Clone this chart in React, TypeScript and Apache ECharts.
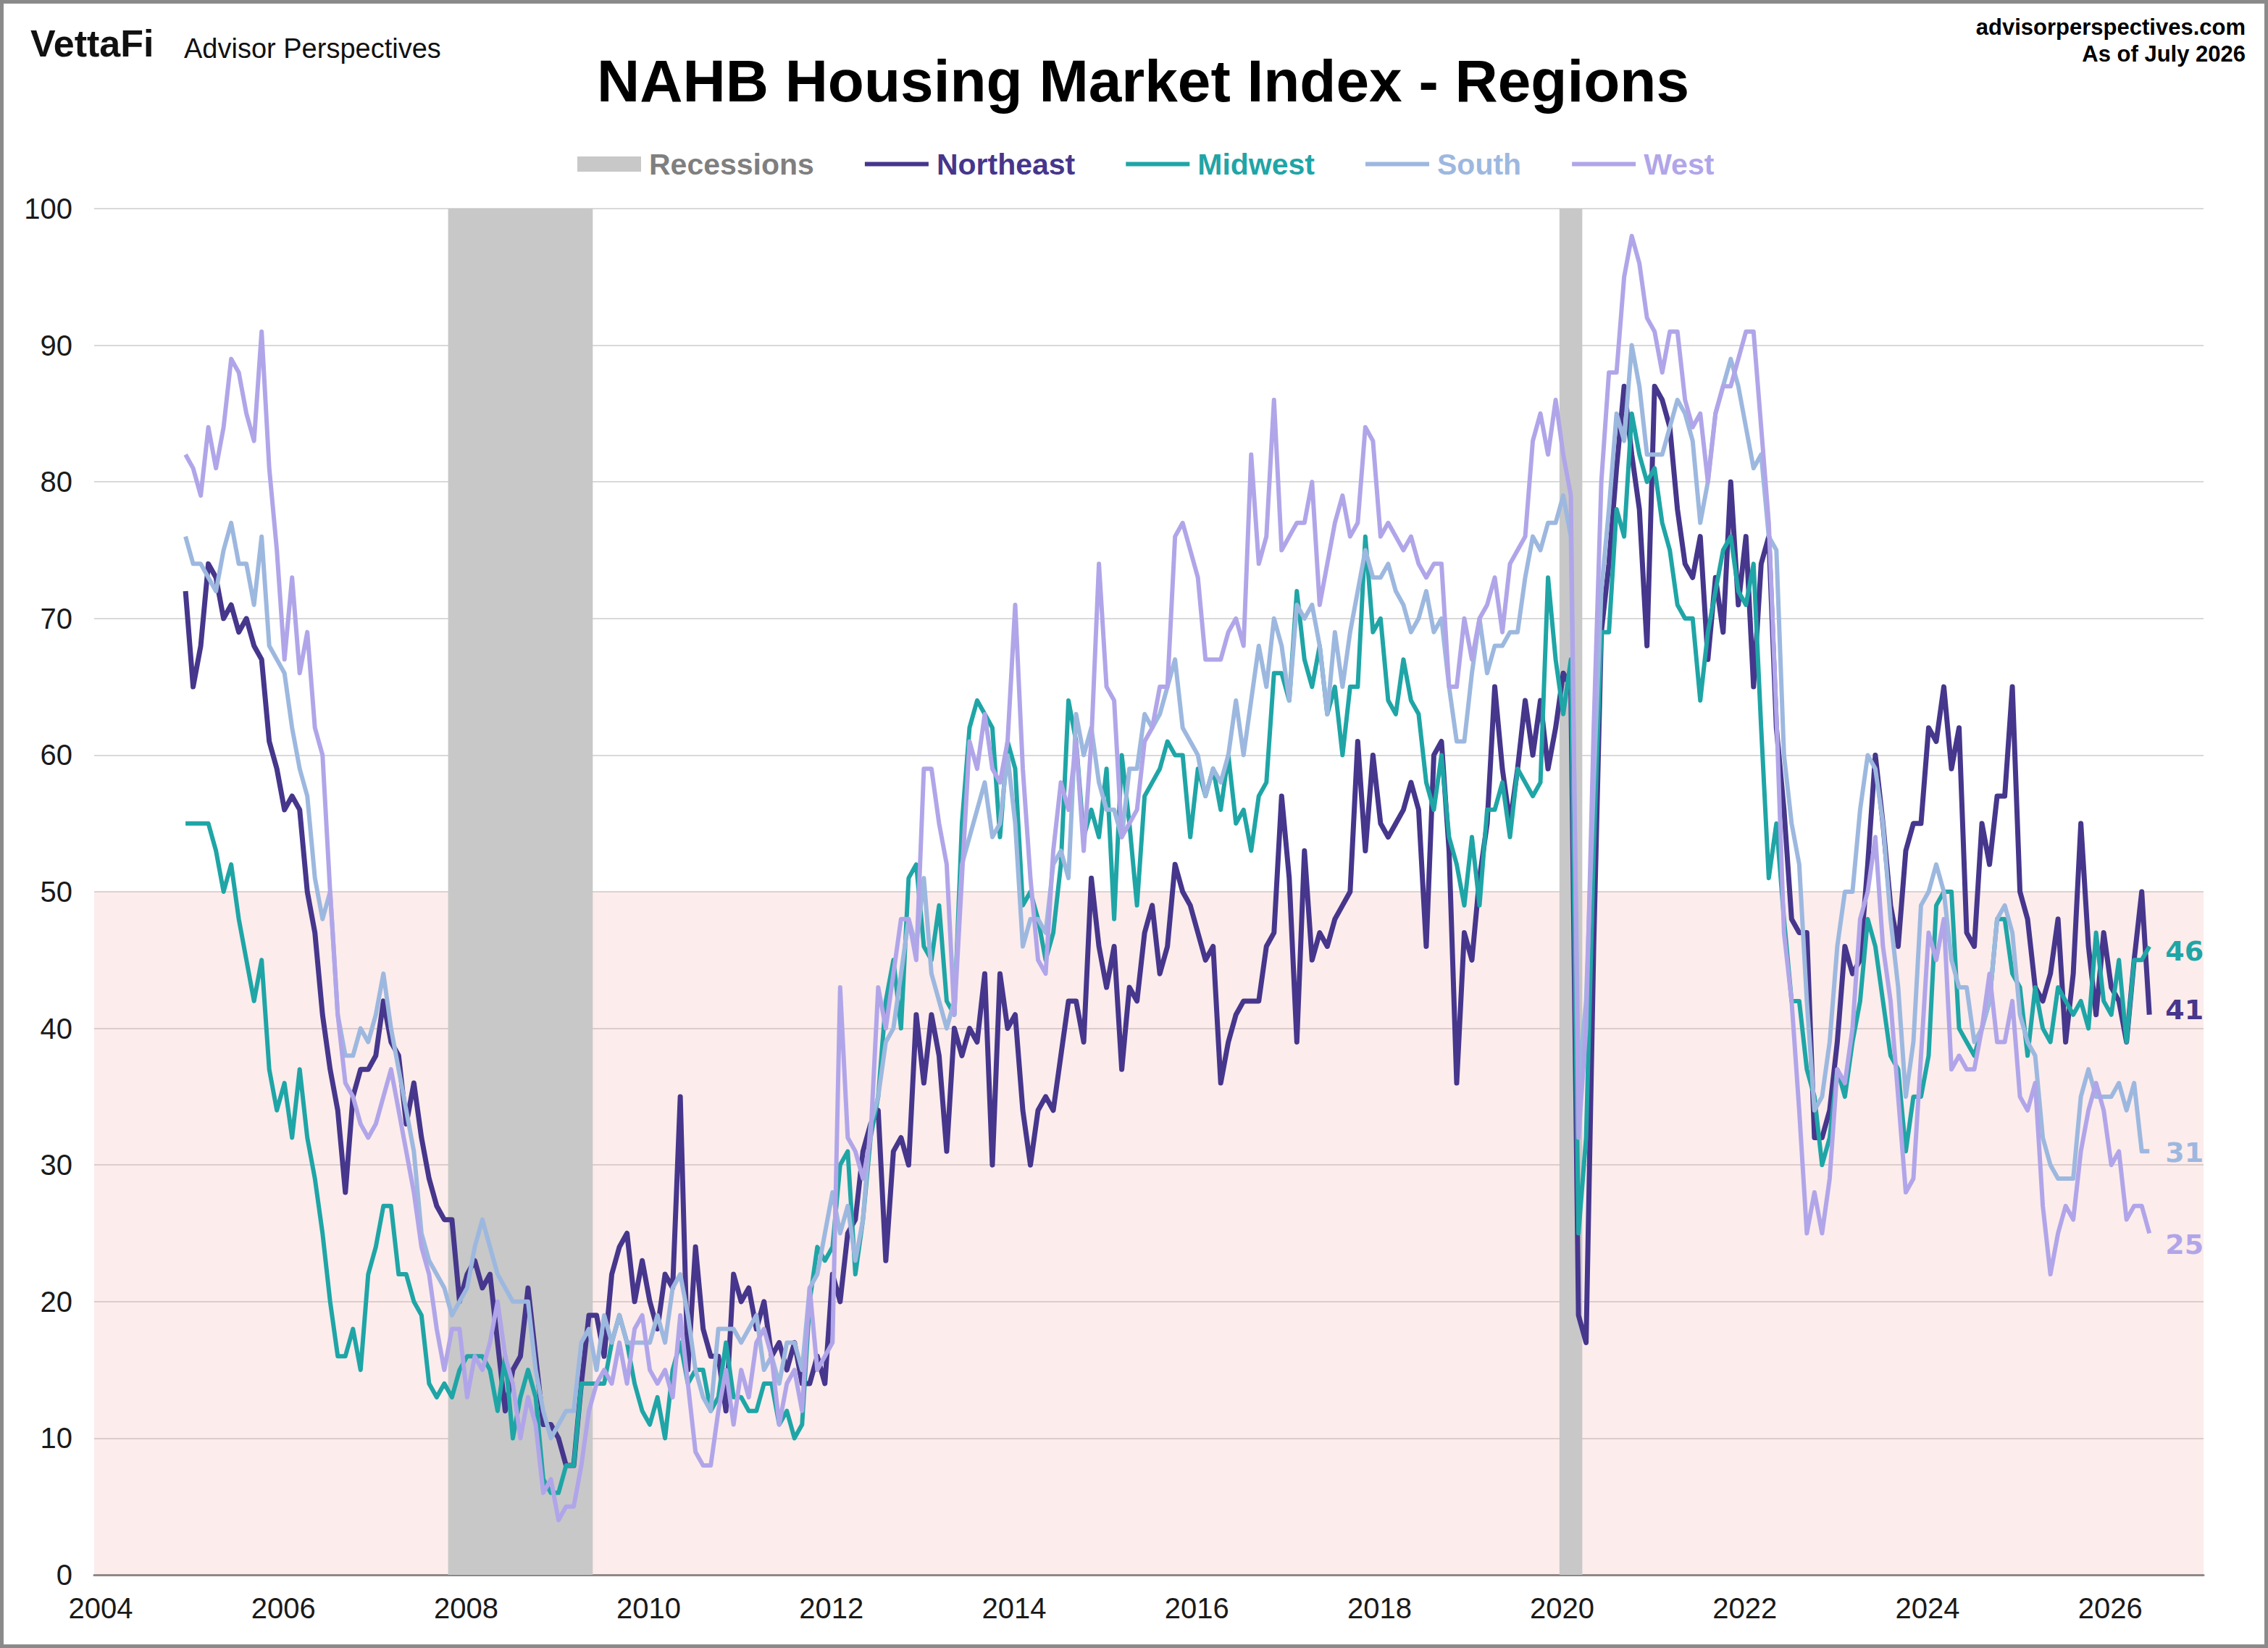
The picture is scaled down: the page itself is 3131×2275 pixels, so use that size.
import { useEffect, useRef } from "react";
import * as echarts from "echarts";

// Monthly readings, Jan 2005 - Jul 2026
const START_YEAR = 2005;

const northeast = [
  72, 65, 68, 74, 73, 70, 71, 69, 70, 68, 67, 61, 59, 56, 57, 56, 50, 47, 41, 37,
  34, 28, 35, 37, 37, 38, 42, 39, 38, 33, 36, 32, 29, 27, 26, 26, 20, 22, 23, 21,
  22, 17, 12, 15, 16, 21, 16, 11, 11, 10, 8, 8, 14, 19, 19, 16, 22, 24, 25, 20,
  23, 20, 18, 22, 21, 35, 15, 24, 18, 16, 16, 12, 22, 20, 21, 18, 20, 16, 17, 15,
  17, 14, 14, 16, 14, 22, 20, 25, 26, 31, 33, 34, 23, 31, 32, 30, 41, 36, 41, 38,
  31, 40, 38, 40, 39, 44, 30, 44, 40, 41, 34, 30, 34, 35, 34, 38, 42, 42, 39, 51,
  46, 43, 46, 37, 43, 42, 47, 49, 44, 46, 52, 50, 49, 47, 45, 46, 36, 39, 41, 42,
  42, 42, 46, 47, 57, 51, 39, 53, 45, 47, 46, 48, 49, 50, 61, 53, 60, 55, 54, 55,
  56, 58, 56, 46, 60, 61, 53, 36, 47, 45, 51, 55, 65, 59, 55, 59, 64, 60, 64, 59,
  62, 66, 65, 19, 17, 46, 69, 74, 81, 87, 82, 78, 68, 87, 86, 84, 78, 74, 73, 76,
  67, 73, 69, 80, 71, 76, 65, 74, 76, 62, 56, 48, 47, 47, 32, 32, 34, 39, 46, 44,
  45, 52, 60, 55, 49, 46, 53, 55, 55, 62, 61, 65, 59, 62, 47, 46, 55, 52, 57, 57,
  65, 50, 48, 43, 42, 44, 48, 39, 44, 55, 46, 41, 47, 43, 42, 39, 45, 50, 41,
];

const midwest = [
  55, 55, 55, 55, 53, 50, 52, 48, 45, 42, 45, 37, 34, 36, 32, 37, 32, 29, 25, 20,
  16, 16, 18, 15, 22, 24, 27, 27, 22, 22, 20, 19, 14, 13, 14, 13, 15, 16, 16, 16,
  15, 12, 16, 10, 13, 15, 13, 7, 6, 6, 8, 8, 14, 14, 14, 14, 17, 19, 17, 14,
  12, 11, 13, 10, 15, 17, 14, 15, 15, 12, 13, 17, 13, 13, 12, 12, 14, 14, 11, 12,
  10, 11, 20, 24, 23, 24, 30, 31, 22, 26, 32, 35, 42, 45, 40, 51, 52, 46, 45, 49,
  42, 41, 55, 62, 64, 63, 62, 54, 61, 59, 49, 50, 48, 45, 47, 52, 64, 61, 54, 56,
  54, 59, 48, 60, 55, 49, 57, 58, 59, 61, 60, 60, 54, 59, 57, 59, 56, 60, 55, 56,
  53, 57, 58, 66, 66, 64, 72, 67, 65, 68, 63, 65, 60, 65, 65, 76, 69, 70, 64, 63,
  67, 64, 63, 58, 56, 60, 54, 52, 49, 54, 49, 56, 56, 58, 54, 59, 58, 57, 58, 73,
  67, 63, 67, 25, 32, 53, 69, 69, 78, 76, 85, 82, 80, 81, 77, 75, 71, 70, 70, 64,
  69, 72, 75, 76, 72, 71, 74, 62, 51, 55, 48, 42, 42, 37, 35, 30, 32, 37, 35, 39,
  42, 48, 46, 42, 38, 37, 31, 35, 35, 38, 49, 50, 50, 40, 39, 38, 40, 42, 48, 48,
  44, 43, 38, 43, 40, 39, 43, 42, 41, 42, 40, 47, 42, 41, 45, 39, 45, 45, 46,
];

const south = [
  76, 74, 74, 73, 72, 75, 77, 74, 74, 71, 76, 68, 67, 66, 62, 59, 57, 51, 48, 50,
  41, 38, 38, 40, 39, 41, 44, 40, 37, 34, 31, 25, 23, 22, 21, 19, 20, 21, 24, 26,
  24, 22, 21, 20, 20, 20, 15, 12, 10, 11, 12, 12, 17, 18, 15, 19, 17, 19, 17, 17,
  17, 17, 19, 17, 21, 22, 19, 15, 13, 12, 18, 18, 18, 17, 18, 19, 15, 16, 14, 17,
  17, 15, 21, 22, 25, 28, 25, 27, 23, 26, 33, 35, 39, 40, 44, 48, 46, 51, 44, 42,
  40, 42, 52, 54, 56, 58, 54, 55, 60, 55, 46, 48, 48, 47, 52, 53, 51, 63, 60, 62,
  58, 56, 56, 54, 59, 59, 63, 62, 63, 65, 67, 62, 61, 60, 57, 59, 58, 60, 64, 60,
  64, 68, 65, 70, 68, 64, 71, 70, 71, 68, 63, 69, 65, 69, 72, 75, 73, 73, 74, 72,
  71, 69, 70, 72, 69, 70, 65, 61, 61, 66, 70, 66, 68, 68, 69, 69, 73, 76, 75, 77,
  77, 79, 76, 36, 42, 58, 72, 78, 85, 83, 90, 87, 82, 82, 82, 84, 86, 85, 83, 77,
  80, 85, 87, 89, 87, 84, 81, 82, 76, 75, 60, 55, 52, 42, 34, 35, 39, 46, 50, 50,
  56, 60, 59, 55, 48, 43, 35, 39, 49, 50, 52, 50, 45, 43, 43, 39, 40, 42, 48, 49,
  47, 41, 39, 38, 32, 30, 29, 29, 29, 35, 37, 35, 35, 35, 36, 34, 36, 31, 31,
];

const west = [
  82, 81, 79, 84, 81, 84, 89, 88, 85, 83, 91, 81, 75, 67, 73, 66, 69, 62, 60, 50,
  41, 36, 35, 33, 32, 33, 35, 37, 34, 31, 28, 24, 22, 18, 15, 18, 18, 13, 16, 15,
  17, 20, 16, 14, 10, 13, 11, 6, 7, 4, 5, 5, 8, 12, 14, 15, 14, 17, 14, 18,
  19, 15, 14, 15, 13, 19, 14, 9, 8, 8, 12, 15, 11, 15, 13, 17, 18, 16, 11, 14,
  15, 12, 21, 15, 16, 17, 43, 32, 31, 29, 32, 43, 40, 44, 48, 48, 45, 59, 59, 55,
  52, 41, 51, 61, 59, 63, 59, 58, 61, 71, 59, 51, 45, 44, 53, 58, 56, 61, 53, 61,
  74, 65, 64, 54, 55, 56, 61, 62, 65, 65, 76, 77, 75, 73, 67, 67, 67, 69, 70, 68,
  82, 74, 76, 86, 75, 76, 77, 77, 80, 71, 74, 77, 79, 76, 77, 84, 83, 76, 77, 76,
  75, 76, 74, 73, 74, 74, 65, 65, 70, 67, 70, 71, 73, 69, 74, 75, 76, 83, 85, 82,
  86, 82, 79, 32, 40, 62, 80, 88, 88, 95, 98, 96, 92, 91, 88, 91, 91, 86, 84, 85,
  80, 85, 87, 87, 89, 91, 91, 84, 77, 63, 47, 42, 34, 25, 28, 25, 29, 37, 36, 40,
  48, 50, 54, 46, 42, 35, 28, 29, 38, 47, 45, 48, 37, 38, 37, 37, 40, 44, 39, 39,
  42, 35, 34, 36, 27, 22, 25, 27, 26, 31, 34, 36, 34, 30, 31, 26, 27, 27, 25,
];

// NBER recessions, first and last month
const recessions = [
  ["2007-12", "2009-06"],
  ["2020-02", "2020-04"],
];

const xTickLabels = ["2004", "2006", "2008", "2010", "2012", "2014", "2016", "2018", "2020", "2022", "2024", "2026"];

const COLORS = {
  northeast: "#46368c",
  midwest: "#1fa5a6",
  south: "#9db8df",
  west: "#b1a5e9",
  recession: "#c8c8c8",
};

const FONT = "Liberation Sans, Arial, sans-serif";
const LINE_ICON = "path://M0,0L88,0L88,6L0,6Z";

const toPoints = (values: number[]) =>
  values.map((v, i) => [START_YEAR + i / 12, v]);

const monthToYear = (ym: string, edge: number) => {
  const [y, m] = ym.split("-").map(Number);
  return y + (m - 1) / 12 + edge / 24;
};

export default function App() {
  const chartRef = useRef<HTMLDivElement>(null);

  useEffect(() => {
    if (!chartRef.current) return;
    document.body.style.margin = "0";

    const chart = echarts.init(chartRef.current, null, { renderer: "svg" });

    const lineSeries = (
      name: string,
      values: number[],
      color: string,
      width: number,
      labelOffset: number
    ) => ({
      name,
      type: "line",
      data: toPoints(values),
      showSymbol: false,
      lineStyle: { color, width, join: "round" },
      itemStyle: { color },
      emphasis: { disabled: true },
      endLabel: {
        show: true,
        distance: 22,
        offset: [0, labelOffset],
        formatter: (p: any) => String(p.value[1]),
        color,
        fontSize: 38,
        fontWeight: "bold",
        fontFamily: "DejaVu Sans, sans-serif",
      },
    });

    const option: any = {
      animation: false,
      backgroundColor: "#ffffff",
      textStyle: { fontFamily: FONT },
      grid: { left: 130, top: 288, width: 2912, height: 1886 },
      legend: {
        left: 792,
        top: 201,
        itemWidth: 88,
        itemHeight: 21,
        itemGap: 70,
        selectedMode: false,
        textStyle: { fontSize: 41, fontWeight: "bold", fontFamily: FONT, padding: [0, 0, 0, 6] },
        data: [
          { name: "Recessions", icon: "rect", itemStyle: { color: COLORS.recession }, textStyle: { color: "#7f7f7f" } },
          { name: "Northeast", icon: LINE_ICON, textStyle: { color: COLORS.northeast } },
          { name: "Midwest", icon: LINE_ICON, textStyle: { color: COLORS.midwest } },
          { name: "South", icon: LINE_ICON, textStyle: { color: COLORS.south } },
          { name: "West", icon: LINE_ICON, textStyle: { color: COLORS.west } },
        ],
      },
      xAxis: {
        type: "value",
        min: 2004,
        max: 2027.093,
        interval: 2,
        axisLine: { lineStyle: { color: "#898989", width: 3 } },
        axisTick: { show: false },
        splitLine: { show: false },
        axisLabel: {
          fontSize: 40,
          lineHeight: 40,
          color: "#1a1a1a",
          margin: 26,
          padding: [0, 0, 0, 18],
          showMaxLabel: false,
          formatter: (v: number) => (xTickLabels.includes(String(v)) ? String(v) : ""),
        },
      },
      yAxis: {
        type: "value",
        min: 0,
        max: 100,
        interval: 10,
        axisLine: { show: false },
        axisTick: { show: false },
        splitLine: { lineStyle: { color: "#d9d9d9", width: 2 } },
        axisLabel: { fontSize: 40, color: "#1a1a1a", margin: 30 },
      },
      graphic: [
        {
          type: "rect",
          shape: { x: 2.5, y: 2.5, width: 3126, height: 2270 },
          style: { fill: "none", stroke: "#8a8a8a", lineWidth: 5 },
          silent: true,
        },
        {
          type: "text",
          x: 42,
          y: 60,
          style: {
            text: "VettaFi",
            fontSize: 52,
            fontWeight: "bold",
            fontFamily: FONT,
            fill: "#111",
            align: "left",
            verticalAlign: "middle",
          },
        },
        {
          type: "text",
          x: 254,
          y: 67,
          style: {
            text: "Advisor Perspectives",
            fontSize: 38,
            fontFamily: FONT,
            fill: "#111",
            align: "left",
            verticalAlign: "middle",
          },
        },
        {
          type: "text",
          x: 1578,
          y: 111,
          style: {
            text: "NAHB Housing Market Index - Regions",
            fontSize: 82,
            fontWeight: "bold",
            fontFamily: FONT,
            fill: "#000",
            align: "center",
            verticalAlign: "middle",
          },
        },
        {
          type: "text",
          x: 3100,
          y: 37,
          style: {
            text: "advisorperspectives.com",
            fontSize: 31,
            fontWeight: "bold",
            fontFamily: FONT,
            fill: "#000",
            align: "right",
            verticalAlign: "middle",
          },
        },
        {
          type: "text",
          x: 3100,
          y: 74,
          style: {
            text: "As of July 2026",
            fontSize: 31,
            fontWeight: "bold",
            fontFamily: FONT,
            fill: "#000",
            align: "right",
            verticalAlign: "middle",
          },
        },
      ],
      series: [
        {
          name: "Recessions",
          type: "line",
          data: [],
          itemStyle: { color: COLORS.recession },
          markArea: {
            silent: true,
            data: [
              [{ yAxis: 0, itemStyle: { color: "rgba(240,140,140,0.17)" } }, { yAxis: 50 }],
              ...recessions.map(([a, b]) => [
                { xAxis: monthToYear(a, -1), itemStyle: { color: COLORS.recession } },
                { xAxis: monthToYear(b, 1) },
              ]),
            ],
          },
        },
        lineSeries("Northeast", northeast, COLORS.northeast, 7, -7),
        lineSeries("Midwest", midwest, COLORS.midwest, 6, 7),
        lineSeries("South", south, COLORS.south, 6, 2),
        lineSeries("West", west, COLORS.west, 6, 15),
      ],
    };

    chart.setOption(option);

    return () => {
      chart.dispose();
    };
  }, []);

  return <div ref={chartRef} style={{ width: 3131, height: 2275 }} />;
}
